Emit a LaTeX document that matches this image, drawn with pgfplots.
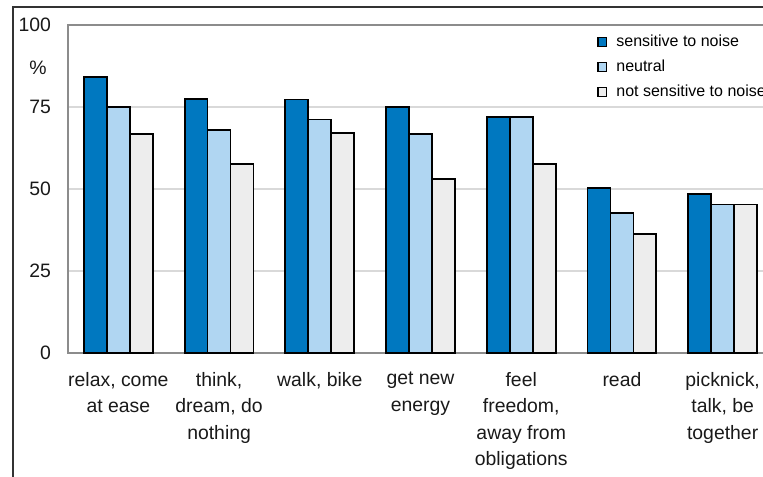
\documentclass[border=0pt]{standalone}
\usepackage{fontspec}
\setmainfont{Liberation Sans}
\usepackage{pgfplots}
\pgfplotsset{compat=1.18}
\definecolor{cdark}{RGB}{0,120,192}
\definecolor{clight}{RGB}{176,214,242}
\definecolor{cgray}{RGB}{237,237,237}
\begin{document}
\begin{tikzpicture}
\begin{axis}[
  at={(34pt,61.5pt)}, anchor=south west,
  scale only axis, width=352.5pt, height=164pt,
  clip=false,
  ybar=0pt, bar width=0.228,
  xmin=-0.5, xmax=6.5, ymin=0, ymax=100,
  xtick={0,1,2,3,4,5,6},
  xticklabels={{relax, come\\at ease},{think,\\dream, do\\nothing},{walk, bike},{get new\\energy},{feel\\freedom,\\away from\\obligations},{read},{picknick,\\talk, be\\together}},
  ytick={0,25,50,75,100},
  major tick length=0pt,
  ymajorgrids, grid style={color=black!15, line width=0.6pt},
  axis line style={color=black!45, line width=0.7pt},
  tick label style={font=\fontsize{9.7}{13.3}\selectfont, text=black!90},
  /pgf/number format/assume math mode=true,
  xticklabel style={align=center, yshift=-6pt},
  yticklabel style={xshift=-5pt},
  legend style={at={(0.75,0.9726)}, anchor=north west, draw=none, fill=none,
    font=\fontsize{8}{9.6}\selectfont, row sep=5pt, inner sep=0pt,
    nodes={inner sep=0pt, text height=6pt, text depth=1.5pt},
    /tikz/every odd column/.append style={column sep=4.5pt}},
  legend cell align=left,
  legend image code/.code={\draw[#1,line width=0.7pt] (0pt,-2.2pt) rectangle (4.4pt,2.2pt);},
  every axis plot/.append style={draw=black, line width=0.9pt},
]
\addplot[fill=cdark] coordinates {(0,84.2) (1,77.4) (2,77.3) (3,75.1) (4,71.9) (5,50.2) (6,48.5)};
\addplot[fill=clight] coordinates {(0,75.1) (1,68.0) (2,71.2) (3,66.8) (4,71.9) (5,42.8) (6,45.3)};
\addplot[fill=cgray] coordinates {(0,66.8) (1,57.6) (2,67.0) (3,53.0) (4,57.6) (5,36.2) (6,45.3)};
\legend{sensitive to noise, neutral, not sensitive to noise}
\node[font=\fontsize{9.7}{13.3}\selectfont, text=black!90] at (axis cs:-0.5,87) [xshift=-15pt] {\%};
\end{axis}
\draw[line width=1pt, black!80] (6.5pt,-20pt) -- (6.5pt,234.5pt) -- (420pt,234.5pt);
\pgfresetboundingbox
\path[use as bounding box] (0,0) rectangle (381.5pt,238pt);
\end{tikzpicture}
\end{document}
